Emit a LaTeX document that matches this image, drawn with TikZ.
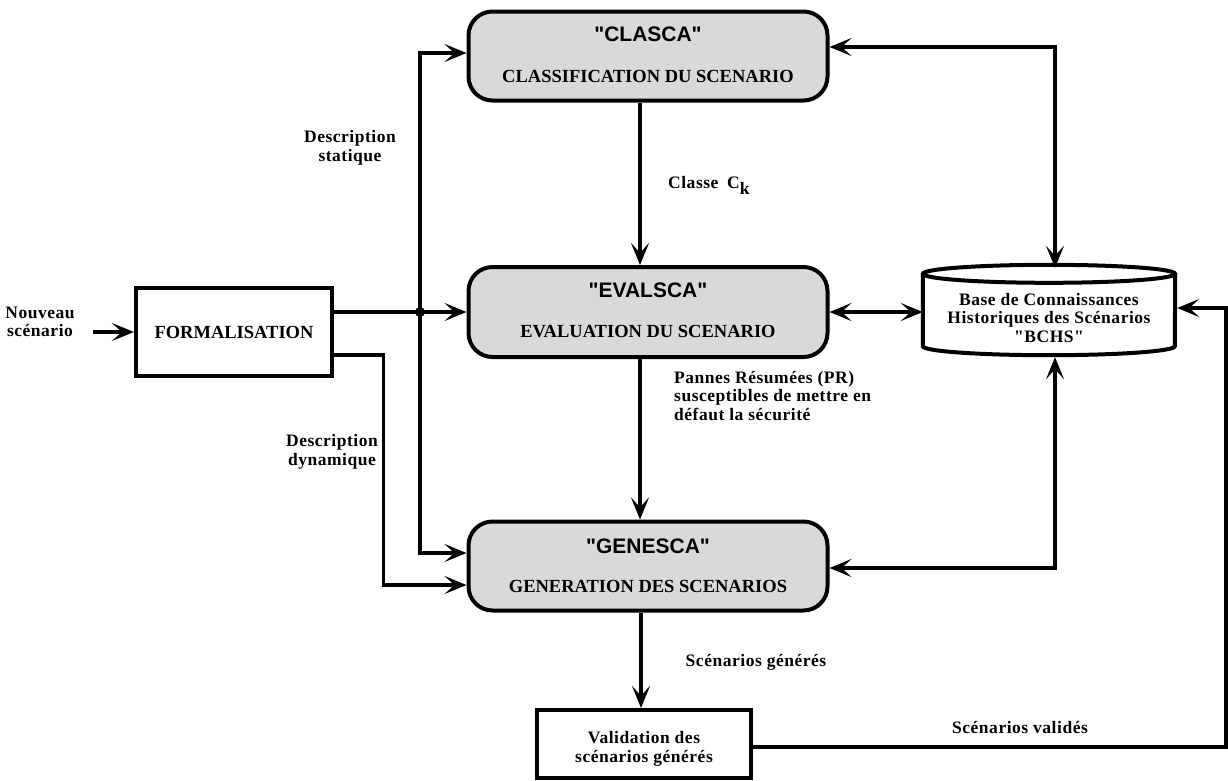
\documentclass[tikz,border=0pt]{standalone}
\usepackage{fontspec}
\setmainfont{Liberation Serif}
\newfontfamily\sansb{Liberation Sans}
\newfontfamily\lblfont{Liberation Serif}[LetterSpace=3]
\usetikzlibrary{arrows.meta,calc}
\begin{document}
\begin{tikzpicture}[x=1pt,y=-1pt,
  conn/.style={line width=3.2pt},
  tipa/.tip={Stealth[length=22pt,width=18pt,inset=10pt]},
  arr/.style={conn,-tipa},
  darr/.style={conn,tipa-tipa},
  proc/.style={draw,line width=4pt,rounded corners=24pt,fill=black!15,minimum width=359pt,minimum height=89pt,inner sep=0pt},
  plainbox/.style={draw,line width=4.2pt,fill=white,inner sep=0pt},
  ttl/.style={font=\sansb\bfseries\fontsize{21}{24}\selectfont,inner sep=0pt},
  sub/.style={font=\bfseries\fontsize{18.5}{22}\selectfont,inner sep=0pt},
  lbl/.style={font=\lblfont\bfseries\fontsize{17.5}{18.5}\selectfont,align=center,inner sep=0pt},
]
\useasboundingbox (0,0) rectangle (1228,780);

% process boxes
\node[proc] (cl) at (648,56) {};
\node[ttl] (clt) at ([yshift=22pt]cl.center) {"CLASCA"};
\node[sub] (cls) at ([yshift=-20pt]cl.center) {CLASSIFICATION DU SCENARIO};

\node[proc,minimum height=90pt] (ev) at (648,312) {};
\node[ttl] (evt) at ([yshift=22pt]ev.center) {"EVALSCA"};
\node[sub] (evs) at ([yshift=-20pt]ev.center) {EVALUATION DU SCENARIO};

\node[proc] (ge) at (648,566) {};
\node[ttl] (get) at ([yshift=20pt]ge.center) {"GENESCA"};
\node[sub] (ges) at ([yshift=-20pt]ge.center) {GENERATION DES SCENARIOS};

\node[plainbox,minimum width=196pt,minimum height=88pt,font=\bfseries\fontsize{18.5}{22}\selectfont] (form) at (234,332) {FORMALISATION};

\node[plainbox,minimum width=214pt,minimum height=68pt] (val) at (644,744) {};
\node[lbl] (valt) at ([yshift=-5pt]val.center) {Validation des\\scénarios générés};

% database cylinder
\node[minimum width=252pt,minimum height=90pt,inner sep=0pt] (db) at (1049,310) {};
\draw[line width=4pt] ([yshift=-9pt]db.north west) -- ([yshift=9pt]db.south west)
  arc[start angle=180,end angle=360,x radius=126pt,y radius=9pt] -- ([yshift=-9pt]db.north east);
\draw[line width=4pt] ([yshift=-9pt]db.north) ellipse [x radius=126pt,y radius=9pt];
\node[lbl] (dbt) at (1049,318) {Base de Connaissances\\Historiques des Scénarios\\"BCHS"};

% labels
\node[lbl] (nv) at (40,322) {Nouveau\\scénario};
\node[lbl] (ds) at (350,148) {Description\\statique};
\node[lbl,anchor=west] (ck) at (668,185) {Classe\enspace C\raisebox{-6pt}{k}};
\node[lbl,align=left,anchor=west] (pr) at (674,396) {Pannes Résumées (PR)\\susceptibles de mettre en\\défaut la sécurité};
\node[lbl] (dd) at (332,452) {Description\\dynamique};
\node[lbl] (sg) at (756,662) {Scénarios générés};
\node[lbl] (sv) at (1020,727) {Scénarios validés};

% connectors
\coordinate (j) at (420,312);
\draw[arr] ([xshift=18pt]nv.east |- form.west) -- (form.west);
\draw[arr] ([yshift=20pt]form.east) -- (ev.west);
\draw[arr] (j) |- ([yshift=3pt]cl.west);
\draw[arr] (j) |- ([yshift=13pt]ge.west);
\fill (j) circle (5pt);
\draw[arr] ([yshift=-23pt]form.east) -| ([xshift=-83pt,yshift=-19pt]ge.west) -- ([yshift=-19pt]ge.west);

\draw[arr] ([xshift=-8pt]cl.south) -- ([xshift=-8pt]ev.north);
\draw[arr] ([xshift=-8pt]ev.south) -- ([xshift=-8pt]ge.north);
\draw[arr] ([xshift=-7pt]ge.south) -- ([xshift=-3pt]val.north);

\draw[darr] ([yshift=9pt]cl.east) -| ([xshift=6pt,yshift=-3pt]db.north);
\draw[darr] (ev.east) -- (ev.east -| db.west);
\draw[darr] ([xshift=6pt,yshift=-2pt]db.south) |- ([yshift=-2pt]ge.east);
\coordinate (rc) at (1226,308);
\draw[arr] ([yshift=-3pt]val.east) -| (rc) -- ([xshift=2pt]rc -| db.east);
\end{tikzpicture}
\end{document}
